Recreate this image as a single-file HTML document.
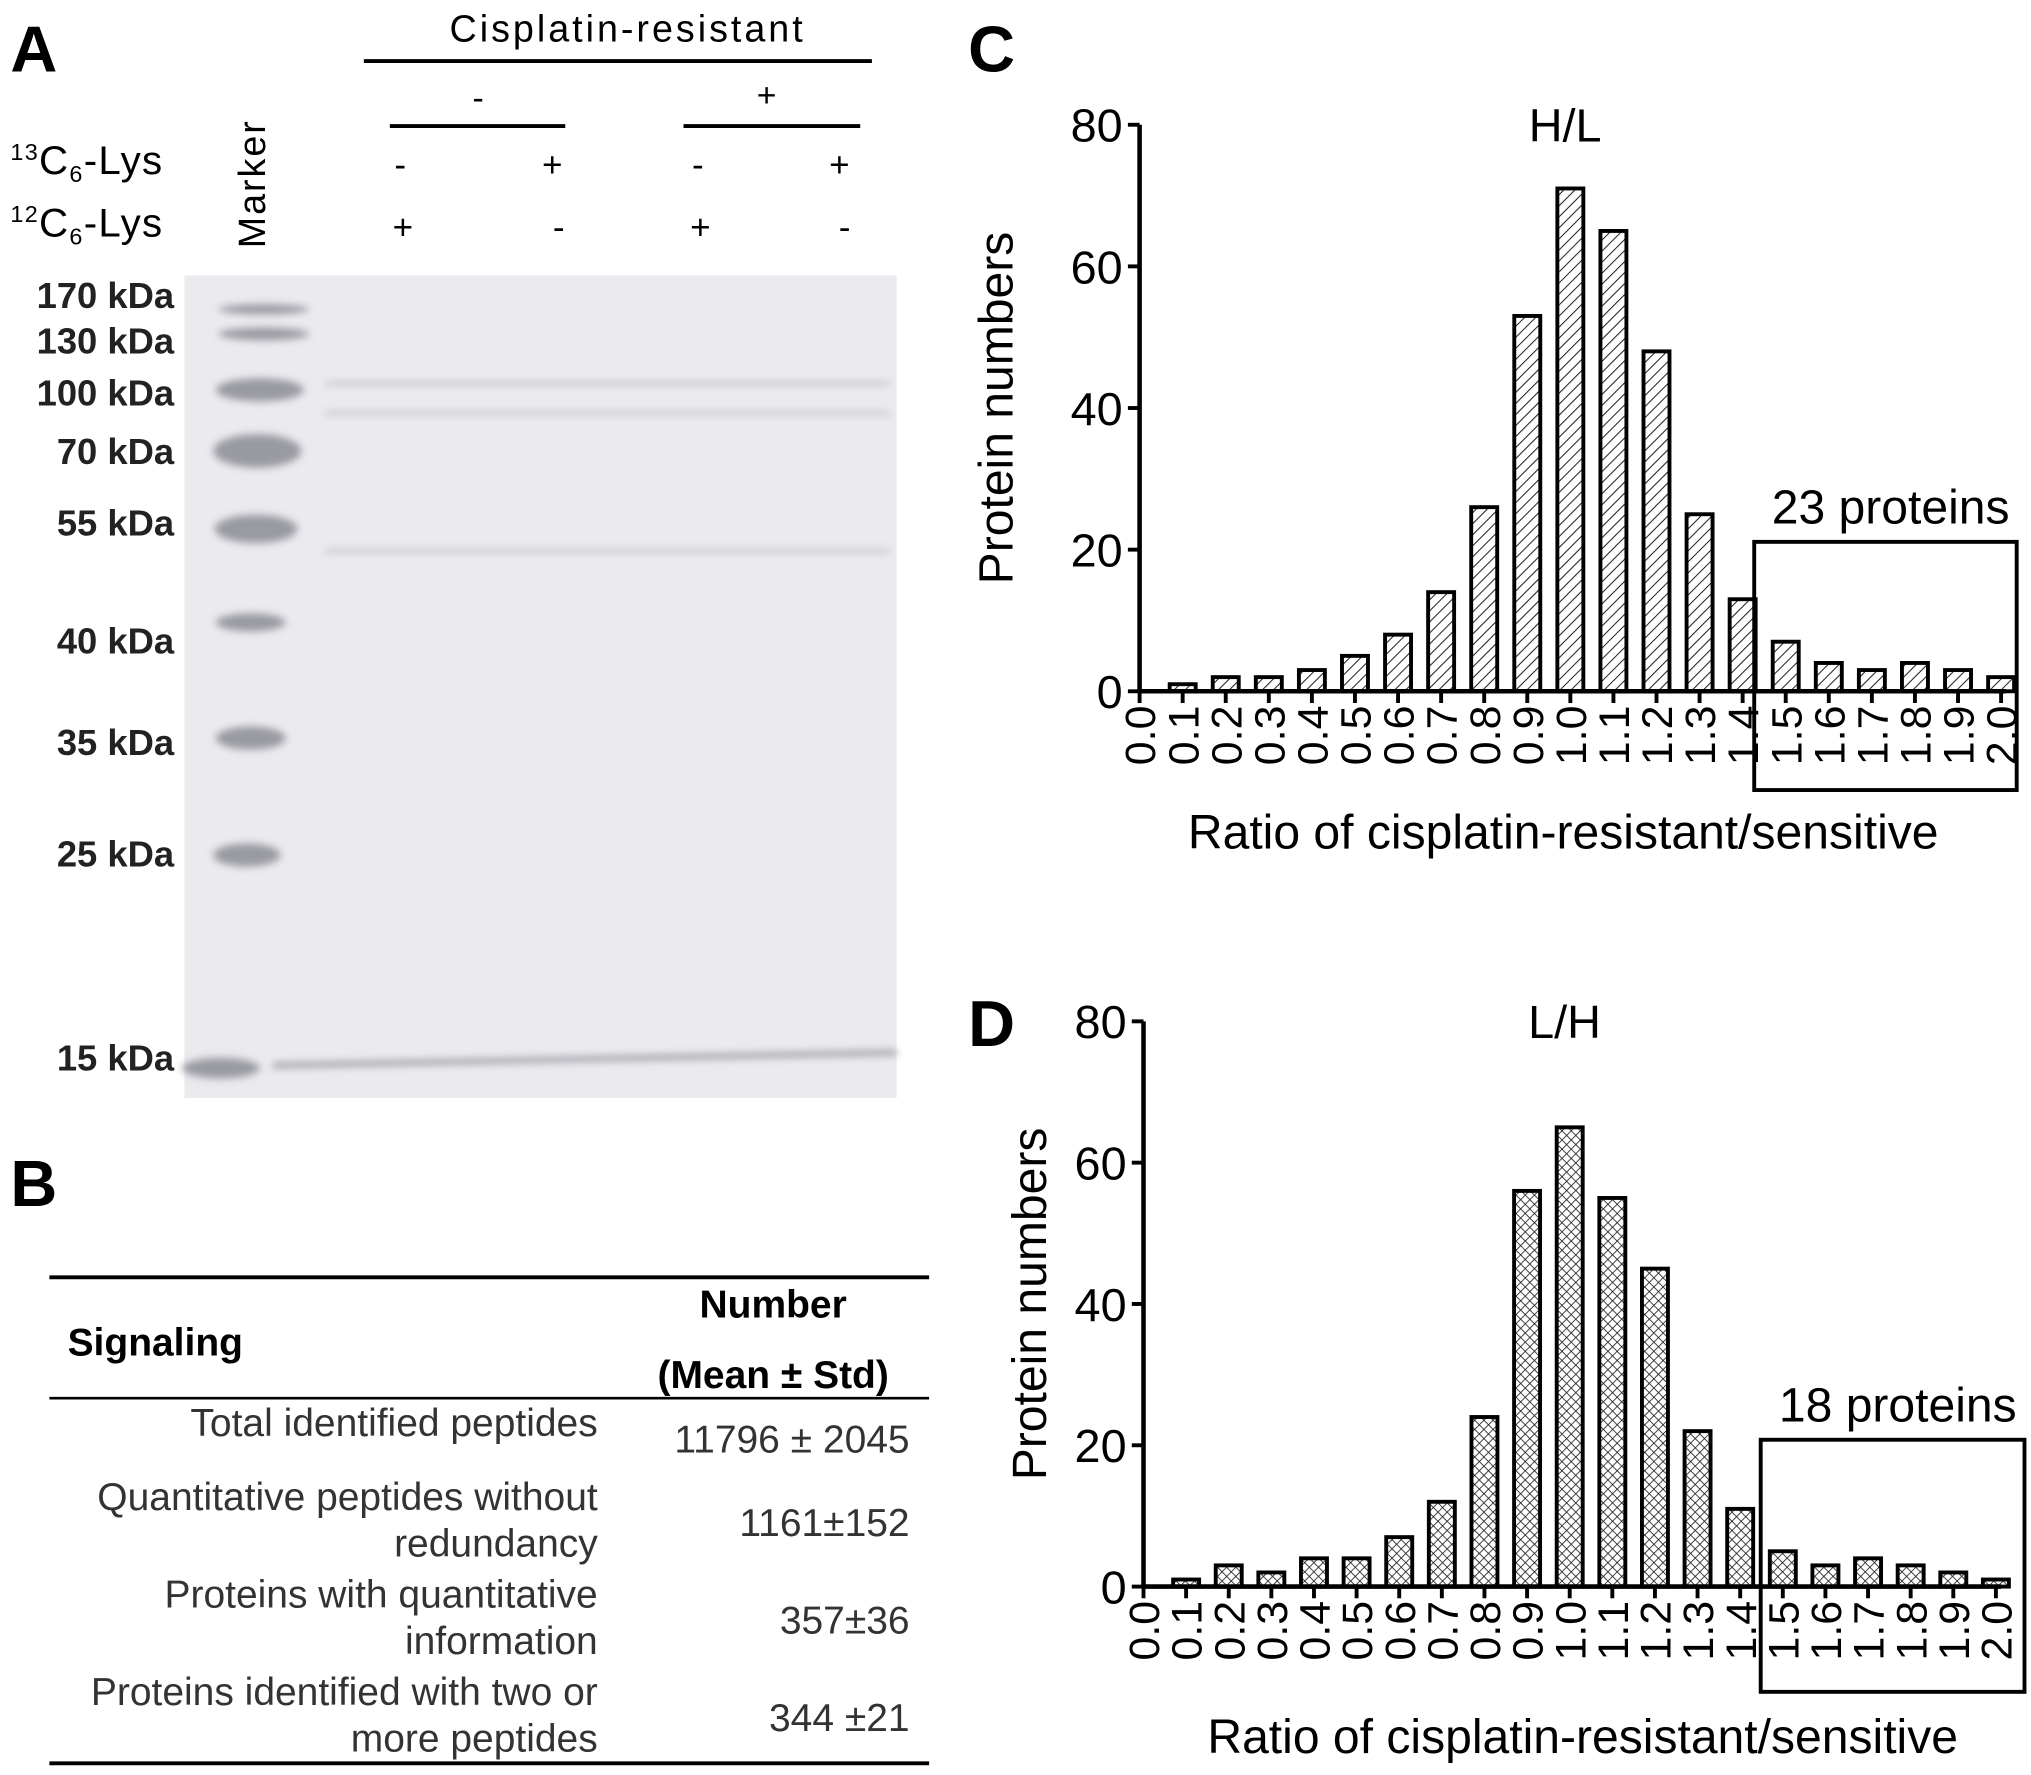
<!DOCTYPE html>
<html><head><meta charset="utf-8"><style>
html,body{margin:0;padding:0;background:#fff;}
svg{display:block;font-family:"Liberation Sans",sans-serif;}
</style></head><body>
<svg id="fig" width="2031" height="1775" viewBox="0 0 1563 1366" xmlns="http://www.w3.org/2000/svg">
<defs>
<pattern id="diag" patternUnits="userSpaceOnUse" width="6" height="6" patternTransform="rotate(45)"><rect width="6" height="6" fill="#fff"/><line x1="0" y1="0" x2="0" y2="6" stroke="#222" stroke-width="1.6"/></pattern>
<pattern id="cross" patternUnits="userSpaceOnUse" width="5" height="5" patternTransform="rotate(45)"><rect width="5" height="5" fill="#fff"/><line x1="0" y1="0" x2="0" y2="5" stroke="#222" stroke-width="1.3"/><line x1="0" y1="0" x2="5" y2="0" stroke="#222" stroke-width="1.3"/></pattern>
<filter id="blur"><feGaussianBlur stdDeviation="3"/></filter>
</defs>

<!-- Panel A -->
<g>
<text x="8" y="55" font-size="50" font-weight="bold">A</text>
<text x="483" y="32" font-size="29" text-anchor="middle" letter-spacing="2.3">Cisplatin-resistant</text>
<line x1="280" y1="47" x2="671" y2="47" stroke="#000" stroke-width="3"/>
<text x="368" y="84" font-size="26" text-anchor="middle">-</text>
<text x="590" y="82" font-size="26" text-anchor="middle">+</text>
<line x1="300" y1="97" x2="435" y2="97" stroke="#000" stroke-width="3"/>
<line x1="526" y1="97" x2="662" y2="97" stroke="#000" stroke-width="3"/>
<text x="8" y="134" font-size="31" letter-spacing="1"><tspan font-size="18" dy="-11">13</tspan><tspan dy="11">C</tspan><tspan font-size="18" dy="6">6</tspan><tspan dy="-6">-Lys</tspan></text>
<text x="8" y="182" font-size="31" letter-spacing="1"><tspan font-size="18" dy="-11">12</tspan><tspan dy="11">C</tspan><tspan font-size="18" dy="6">6</tspan><tspan dy="-6">-Lys</tspan></text>
<text transform="translate(204,191) rotate(-90)" font-size="29" letter-spacing="1.5">Marker</text>
<g font-size="27" text-anchor="middle">
<text x="308" y="136">-</text><text x="425" y="136">+</text><text x="537" y="136">-</text><text x="646" y="136">+</text>
<text x="310" y="184">+</text><text x="430" y="184">-</text><text x="539" y="184">+</text><text x="650" y="184">-</text>
</g>
<rect x="142" y="212" width="548" height="633" fill="#ebebef"/>
<g fill="#9a9aa2" filter="url(#blur)">
<ellipse cx="203" cy="238" rx="35" ry="4"/><ellipse cx="203" cy="257" rx="35" ry="5"/>
<ellipse cx="200" cy="300" rx="34" ry="9"/><ellipse cx="198" cy="347" rx="34" ry="13"/>
<ellipse cx="197" cy="407" rx="32" ry="11"/><ellipse cx="193" cy="479" rx="27" ry="7"/>
<ellipse cx="193" cy="568" rx="27" ry="9"/><ellipse cx="190" cy="658" rx="26" ry="9"/>
<ellipse cx="170" cy="822" rx="30" ry="8"/>
</g>
<g stroke="#c0c0c8" stroke-width="3" filter="url(#blur)">
<line x1="250" y1="318" x2="685" y2="318"/><line x1="250" y1="424" x2="685" y2="424"/>
<line x1="250" y1="295" x2="685" y2="295"/><line x1="210" y1="820" x2="690" y2="810" stroke="#9a9aa2" stroke-width="4"/>
</g>
<g font-size="28" font-weight="bold" fill="#222" text-anchor="end">
<text x="134" y="237">170 kDa</text><text x="134" y="272">130 kDa</text><text x="134" y="312">100 kDa</text>
<text x="134" y="357">70 kDa</text><text x="134" y="412">55 kDa</text><text x="134" y="503">40 kDa</text>
<text x="134" y="581">35 kDa</text><text x="134" y="667">25 kDa</text><text x="134" y="824">15 kDa</text>
</g>
</g>

<!-- Panel B -->
<g>
<text x="8" y="928" font-size="50" font-weight="bold">B</text>
<line x1="38" y1="983" x2="715" y2="983" stroke="#000" stroke-width="3"/>
<text x="595" y="1014" font-size="30" font-weight="bold" text-anchor="middle">Number</text>
<text x="52" y="1043" font-size="30" font-weight="bold">Signaling</text>
<text x="595" y="1068" font-size="30" font-weight="bold" text-anchor="middle">(Mean ± Std)</text>
<line x1="38" y1="1076" x2="715" y2="1076" stroke="#000" stroke-width="2"/>
<g font-size="30" fill="#333">
<text x="460" y="1105" text-anchor="end">Total identified peptides</text>
<text x="700" y="1118" text-anchor="end">11796 ± 2045</text>
<text x="460" y="1162" text-anchor="end">Quantitative peptides without</text>
<text x="460" y="1198" text-anchor="end">redundancy</text>
<text x="700" y="1182" text-anchor="end">1161±152</text>
<text x="460" y="1237" text-anchor="end">Proteins with quantitative</text>
<text x="460" y="1273" text-anchor="end">information</text>
<text x="700" y="1257" text-anchor="end">357±36</text>
<text x="460" y="1312" text-anchor="end">Proteins identified with two or</text>
<text x="460" y="1348" text-anchor="end">more peptides</text>
<text x="700" y="1332" text-anchor="end">344 ±21</text>
</g>
<line x1="38" y1="1357" x2="715" y2="1357" stroke="#000" stroke-width="3"/>
</g>

<g id="chartC"></g>
<g id="chartD"></g>
</svg>
<script>
const ratioCategories = ["0.1","0.2","0.3","0.4","0.5","0.6","0.7","0.8","0.9","1.0","1.1","1.2","1.3","1.4","1.5","1.6","1.7","1.8","1.9","2.0"];
const xTickLabels = ["0.0","0.1","0.2","0.3","0.4","0.5","0.6","0.7","0.8","0.9","1.0","1.1","1.2","1.3","1.4","1.5","1.6","1.7","1.8","1.9","2.0"];
const yTickValues = [0,20,40,60,80];
const hlValues = [1,2,2,3,5,8,14,26,53,71,65,48,25,13,7,4,3,4,3,2];
const lhValues = [1,3,2,4,4,7,12,24,56,65,55,45,22,11,5,3,4,3,2,1];
const NS="http://www.w3.org/2000/svg";
function mk(parent,tag,attrs,text){const e=document.createElementNS(NS,tag);for(const k in attrs)e.setAttribute(k,attrs[k]);if(text!==undefined)e.textContent=text;parent.appendChild(e);return e;}
function drawChart(g,cfg){
  const x0=cfg.x0,x1=cfg.x1,yb=cfg.yb,yt=cfg.yt,ymax=80;
  const xs=v=>x0+(x1-x0)*v/2.0;
  const ys=v=>yb-(yb-yt)*v/ymax;
  const lbl=mk(g,'text',{x:cfg.lx,y:cfg.ly,'font-size':50,'font-weight':'bold'},cfg.letter);
  
  
  const t=mk(g,'text',{x:(x0+x1)/2-4,y:yt+13,'font-size':36,'text-anchor':'middle'},cfg.title);
  
  
  ratioCategories.forEach((c,i)=>{
    const v=cfg.values[i];const cx=xs(parseFloat(c));
    const r=mk(g,'rect',{x:cx-10,y:ys(v),width:20,height:yb-ys(v),fill:'url(#'+cfg.pat+')',stroke:'#000','stroke-width':3});
    
    
  });
  mk(g,'line',{x1:x0,y1:yt,x2:x0,y2:yb,stroke:'#000','stroke-width':3.5});
  mk(g,'line',{x1:x0,y1:yb,x2:x1+4,y2:yb,stroke:'#000','stroke-width':3.5});
  yTickValues.forEach(v=>{
    mk(g,'line',{x1:x0-9,y1:ys(v),x2:x0,y2:ys(v),stroke:'#000','stroke-width':3});
    const tl=mk(g,'text',{x:x0-13,y:ys(v)+13,'font-size':36,'text-anchor':'end'},String(v));
    
    
  });
  xTickLabels.forEach(s=>{
    const x=xs(parseFloat(s));
    mk(g,'line',{x1:x,y1:yb,x2:x,y2:yb+9,stroke:'#000','stroke-width':3});
    const tl=mk(g,'text',{transform:'translate('+(x+12)+','+(yb+11)+') rotate(-90)','font-size':33,'text-anchor':'end'},s);
    
    
  });
  const yl=mk(g,'text',{transform:'translate('+cfg.ylx+','+((yb+yt)/2)+') rotate(-90)','font-size':37,'text-anchor':'middle'},'Protein numbers');
  
  
  const xl=mk(g,'text',{x:cfg.xtx,y:cfg.xty,'font-size':37,'text-anchor':'middle'},'Ratio of cisplatin-resistant/sensitive');
  
  
  const b=mk(g,'rect',{x:cfg.bx,y:cfg.by,width:cfg.bw,height:cfg.bh,fill:'none',stroke:'#000','stroke-width':3});
  
  
  const bt=mk(g,'text',{x:cfg.bx+cfg.bw/2+4,y:cfg.by-14,'font-size':37,'text-anchor':'middle'},cfg.boxText);
  
  
}
drawChart(document.getElementById('chartC'),{letter:'C',lx:745,ly:55,title:'H/L',x0:877,x1:1540,yb:532,yt:96,values:hlValues,pat:'diag',ylx:779,xtx:1203,xty:653,bx:1350,by:417,bw:202,bh:191,boxText:'23 proteins'});
drawChart(document.getElementById('chartD'),{letter:'D',lx:745,ly:805,title:'L/H',x0:880,x1:1536,yb:1221,yt:786,values:lhValues,pat:'cross',ylx:805,xtx:1218,xty:1349,bx:1355,by:1108,bw:203,bh:194,boxText:'18 proteins'});
</script>
</body></html>
